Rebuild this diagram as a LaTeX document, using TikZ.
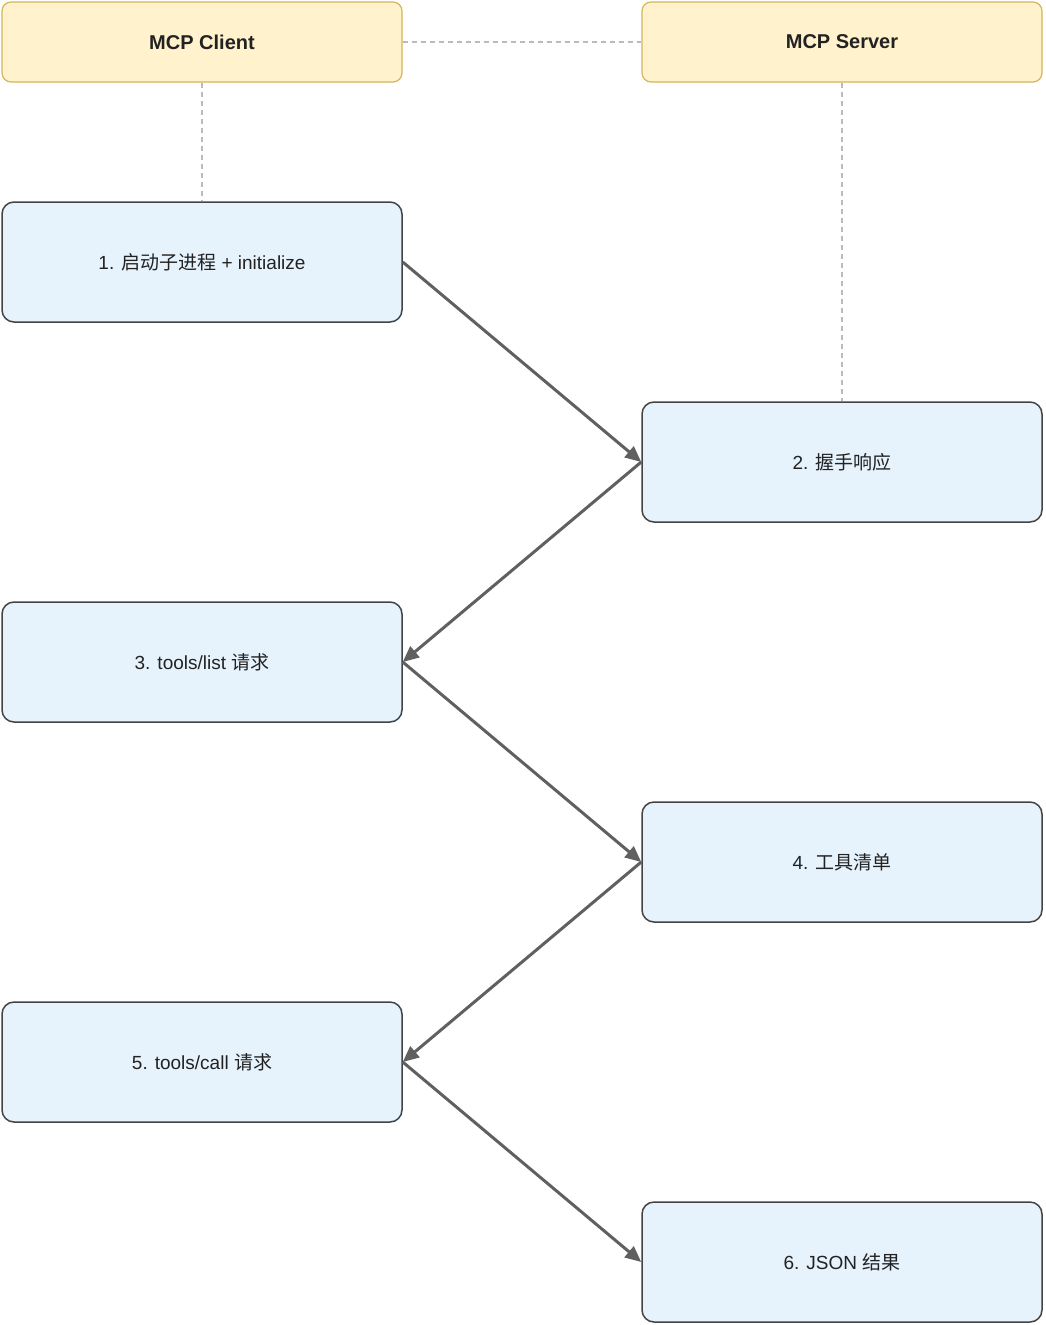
\documentclass[tikz,border=0pt]{standalone}
\usepackage{fontspec}
\setmainfont{Liberation Sans}
\newfontfamily\cjk{Noto Sans CJK SC}
\begin{document}
\begin{tikzpicture}[x=1pt,y=-1pt,
  hdr/.style={draw=yellowline,fill=yellowfill,rounded corners=9pt,line width=1.2pt,minimum width=400pt,minimum height=80pt,font=\fontsize{20}{24}\selectfont\bfseries,text=textc},
  stepbox/.style={draw=boxline,fill=bluefill,rounded corners=12pt,line width=1.5pt,minimum width=400pt,minimum height=120pt,font=\fontsize{19}{23}\selectfont,text=textc},
  arr/.style={draw=arrc,line width=3pt,-{Triangle[length=16pt,width=14pt]}},
  dsh/.style={draw=dashc,line width=1.2pt,dash pattern=on 5pt off 4pt}]
\usetikzlibrary{arrows.meta}
\definecolor{yellowline}{HTML}{D6B656}
\definecolor{yellowfill}{HTML}{FFF2CC}
\definecolor{boxline}{HTML}{444444}
\definecolor{bluefill}{HTML}{E6F2FC}
\definecolor{textc}{HTML}{222222}
\definecolor{arrc}{HTML}{606060}
\definecolor{dashc}{HTML}{BBBBBB}
\useasboundingbox (0,0) rectangle (1045,1325);
\node[hdr] (c) at (202,42) {MCP Client};
\node[hdr] (s) at (842,42) {MCP Server};
\node[stepbox] (n1) at (202,262) {1. {\cjk 启动子进程} + initialize};
\node[stepbox] (n2) at (842,462) {2. {\cjk 握手响应}};
\node[stepbox] (n3) at (202,662) {3. tools/list {\cjk 请求}};
\node[stepbox] (n4) at (842,862) {4. {\cjk 工具清单}};
\node[stepbox] (n5) at (202,1062) {5. tools/call {\cjk 请求}};
\node[stepbox] (n6) at (842,1262) {6. JSON {\cjk 结果}};
\draw[dsh] (c.east) -- (s.west);
\draw[dsh] (c.south) -- (n1.north);
\draw[dsh] (s.south) -- (n2.north);
\draw[arr] (n1.east) -- (n2.west);
\draw[arr] (n2.west) -- (n3.east);
\draw[arr] (n3.east) -- (n4.west);
\draw[arr] (n4.west) -- (n5.east);
\draw[arr] (n5.east) -- (n6.west);
\end{tikzpicture}
\end{document}
